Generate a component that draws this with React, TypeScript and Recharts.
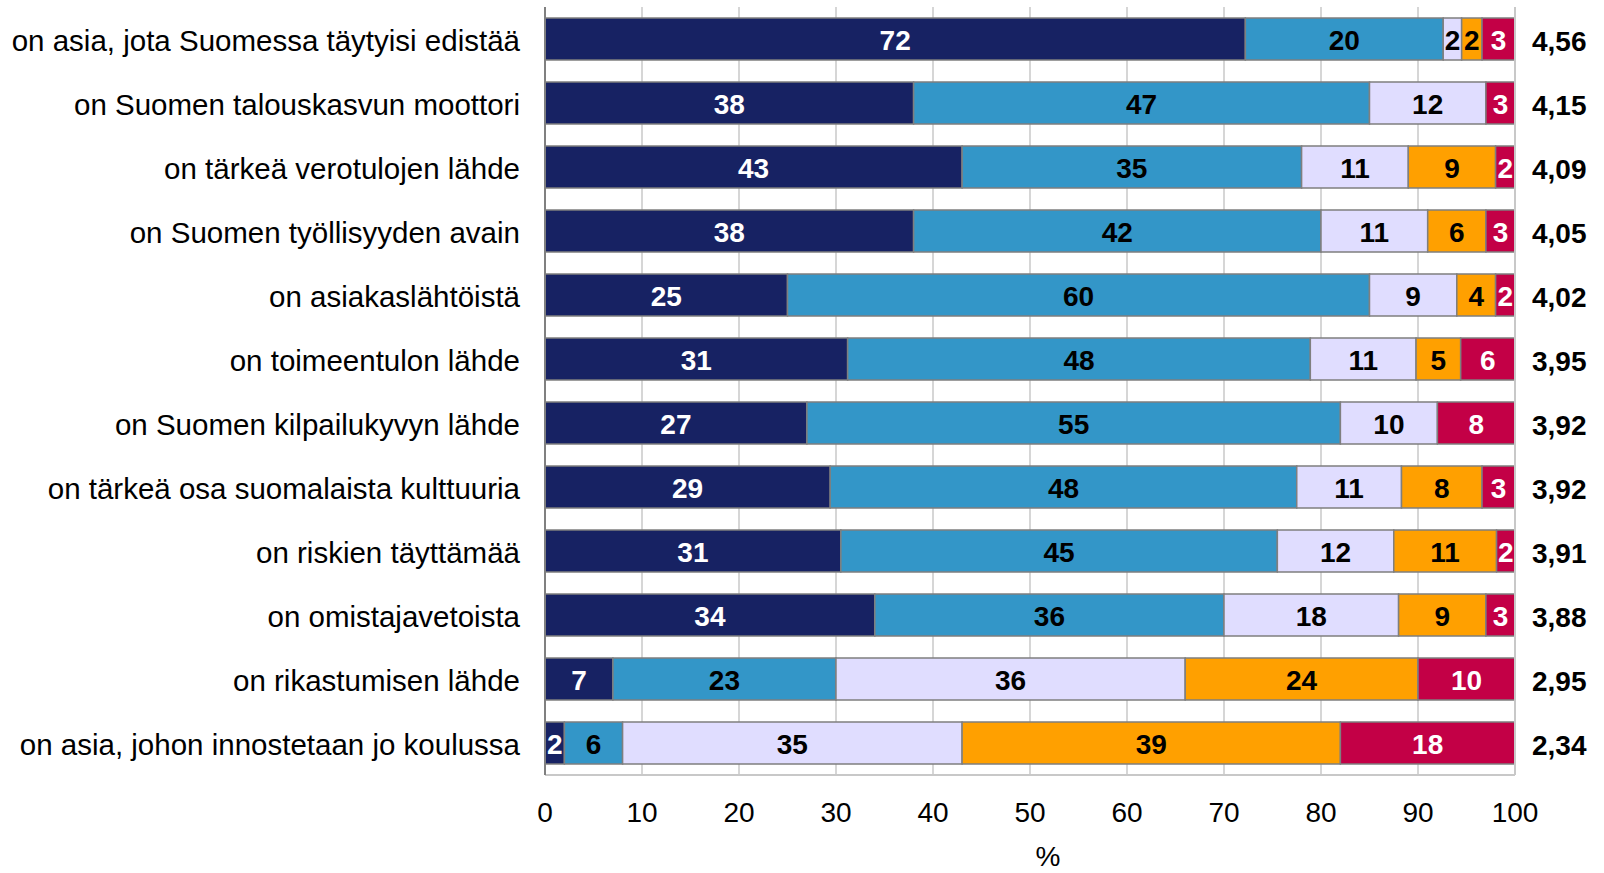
import React from "react";
import { BarChart, Bar, XAxis, YAxis, CartesianGrid, LabelList } from "recharts";

const categories = [
  "on asia, jota Suomessa täytyisi edistää",
  "on Suomen talouskasvun moottori",
  "on tärkeä verotulojen lähde",
  "on Suomen työllisyyden avain",
  "on asiakaslähtöistä",
  "on toimeentulon lähde",
  "on Suomen kilpailukyvyn lähde",
  "on tärkeä osa suomalaista kulttuuria",
  "on riskien täyttämää",
  "on omistajavetoista",
  "on rikastumisen lähde",
  "on asia, johon innostetaan jo koulussa",
];

const veryMuch = [72.2, 38, 43, 38, 25, 31.2, 27, 29.4, 30.5, 34, 7, 2];
const quiteMuch = [20.4, 47, 35, 42, 60, 47.7, 55, 48.1, 45, 36, 23, 6];
const neutral = [1.9, 12, 11, 11, 9, 10.9, 10, 10.8, 12, 18, 36, 35];
const quiteLittle = [2.1, 0, 9, 6, 4, 4.6, 0, 8.3, 10.6, 9, 24, 39];
const veryLittle = [3.4, 3, 2, 3, 2, 5.6, 8, 3.4, 1.9, 3, 10, 18];

const means = ["4,56", "4,15", "4,09", "4,05", "4,02", "3,95", "3,92", "3,92", "3,91", "3,88", "2,95", "2,34"];

const xTicks = [0, 10, 20, 30, 40, 50, 60, 70, 80, 90, 100];

const data = categories.map((label, i) => ({
  label,
  s1: veryMuch[i],
  s2: quiteMuch[i],
  s3: neutral[i],
  s4: quiteLittle[i],
  s5: veryLittle[i],
}));

const series = [
  { key: "s1", color: "#172263", text: "#ffffff" },
  { key: "s2", color: "#3396c8", text: "#000000" },
  { key: "s3", color: "#e0ddff", text: "#000000" },
  { key: "s4", color: "#ffa000", text: "#000000" },
  { key: "s5", color: "#c30046", text: "#ffffff" },
];

const FONT = "'Liberation Sans', Arial, sans-serif";

function makeLabel(fill: string) {
  return (props: any) => {
    const { x, y, width, height, value } = props;
    if (!value) return null;
    return (
      <text
        x={x + width / 2}
        y={y + height / 2 + 11}
        textAnchor="middle"
        fill={fill}
        fontSize={28}
        fontWeight="bold"
        fontFamily={FONT}
      >
        {Math.round(value)}
      </text>
    );
  };
}

export default function App() {
  return (
    <div style={{ position: "absolute", left: 0, top: 0, background: "#fff" }}>
      <BarChart
        width={1604}
        height={873}
        data={data}
        layout="vertical"
        margin={{ top: 7, right: 9, bottom: 0, left: 0 }}
        style={{ fontFamily: FONT }}
      >
        <CartesianGrid horizontal={false} stroke="#c8c8c8" strokeWidth={1.5} />
        <XAxis
          type="number"
          domain={[0, 100]}
          ticks={xTicks}
          allowDataOverflow
          height={98}
          tickSize={0}
          tickMargin={27}
          tickLine={false}
          axisLine={{ stroke: "#c8c8c8", strokeWidth: 2 }}
          tick={{ fontSize: 28, fill: "#000", fontFamily: FONT }}
          label={{ value: "%", position: "insideBottom", offset: 7, dx: 18, fontSize: 28, fill: "#000", fontFamily: FONT }}
        />
        <XAxis
          xAxisId="top"
          orientation="top"
          type="number"
          domain={[0, 100]}
          height={0}
          tick={false}
          tickLine={false}
          axisLine={{ stroke: "#808080", strokeWidth: 2 }}
        />
        <YAxis
          type="category"
          dataKey="label"
          width={545}
          tickSize={0}
          tickMargin={25}
          tickLine={false}
          axisLine={{ stroke: "#808080", strokeWidth: 2 }}
          tick={{ fontSize: 29.5, fill: "#000", fontFamily: FONT, dy: 2 }}
          interval={0}
        />
        <YAxis
          yAxisId="right"
          orientation="right"
          type="category"
          dataKey="label"
          width={80}
          tickSize={0}
          tickMargin={17}
          tickLine={false}
          axisLine={{ stroke: "#c8c8c8", strokeWidth: 2 }}
          tick={{ fontSize: 28, fill: "#000", fontWeight: "bold", fontFamily: FONT, dy: 2 }}
          tickFormatter={(_v: string, i: number) => means[i]}
          interval={0}
        />
        {series.map((s) => (
          <Bar
            key={s.key}
            dataKey={s.key}
            stackId="a"
            fill={s.color}
            stroke="#7f7f7f"
            strokeWidth={1.5}
            barSize={42}
            isAnimationActive={false}
          >
            <LabelList dataKey={s.key} content={makeLabel(s.text)} />
          </Bar>
        ))}
      </BarChart>
    </div>
  );
}
